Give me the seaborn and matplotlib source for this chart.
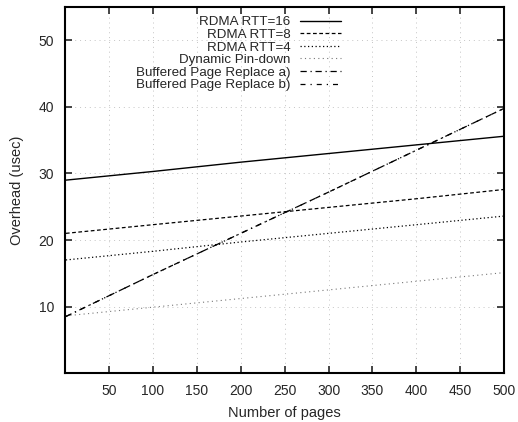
import matplotlib
matplotlib.use("Agg")
import matplotlib.pyplot as plt
import seaborn as sns
import pandas as pd

pages = [1, 100, 200, 300, 400, 500]
rtt16 = [29.0, 30.3, 31.7, 33.0, 34.3, 35.6]
rtt8 = [21.0, 22.3, 23.6, 24.9, 26.2, 27.6]
rtt4 = [17.0, 18.3, 19.7, 21.0, 22.3, 23.6]
pindown = [8.6, 9.9, 11.2, 12.5, 13.8, 15.1]
bpr_a = [8.5, 14.8, 21.0, 27.2, 33.5, 39.8]
bpr_b = [8.5, 14.8, 21.0, 27.2, 33.5, 39.8]

labels = ["RDMA RTT=16", "RDMA RTT=8", "RDMA RTT=4", "Dynamic Pin-down",
          "Buffered Page Replace a)", "Buffered Page Replace b)"]
series = [rtt16, rtt8, rtt4, pindown, bpr_a, bpr_b]

xticks = [50, 100, 150, 200, 250, 300, 350, 400, 450, 500]
yticks = [10, 20, 30, 40, 50]

sns.set_style("ticks")
plt.rcParams['font.family'] = ['Liberation Sans', 'DejaVu Sans']
plt.rcParams['font.size'] = 10

fig = plt.figure(figsize=(5.18, 4.22), dpi=100)
ax = fig.add_axes([0.1255, 0.116, 0.848, 0.867])

styles = [
    dict(color="black", lw=1.0, ls="-"),
    dict(color="black", lw=0.9, ls=(0, (3, 2))),
    dict(color="black", lw=0.9, ls=(0, (1, 2))),
    dict(color="#777777", lw=0.8, ls=(0, (1, 3))),
    dict(color="black", lw=0.9, ls=(0, (5, 3, 1, 3))),
    dict(color="black", lw=0.9, ls=(0, (4, 4, 1, 4))),
]

for lab, vals, st in zip(labels, series, styles):
    df = pd.DataFrame({"x": pages, "y": vals})
    sns.lineplot(data=df, x="x", y="y", ax=ax, label=lab, **st)

ax.set_xlim(0, 500)
ax.set_ylim(0, 55)
ax.set_xticks(xticks)
ax.set_yticks(yticks)
ax.set_xticklabels([str(t) for t in xticks], fontsize=10)
ax.set_yticklabels([str(t) for t in yticks], fontsize=10)
ax.grid(True, color="#c4c4c4", ls=(0, (1, 4)), lw=0.7)
ax.tick_params(direction="in", length=5, width=1.2, top=True, right=True, pad=8)
for s in ax.spines.values():
    s.set_linewidth(1.5)
    s.set_color("black")
ax.set_xlabel("Number of pages", fontsize=10.5, labelpad=6)
ax.set_ylabel("Overhead (usec)", fontsize=10.5, labelpad=10)

leg = ax.legend(loc="upper right", bbox_to_anchor=(341 / 518, 1 - 16 / 422),
                bbox_transform=fig.transFigure, frameon=False, markerfirst=False,
                handlelength=3.1, borderpad=0, borderaxespad=0, labelspacing=0.02,
                handletextpad=0.7, fontsize=9.6)
for t in leg.get_texts():
    t.set_ha("right")

fig.savefig("out.png", dpi=100)
